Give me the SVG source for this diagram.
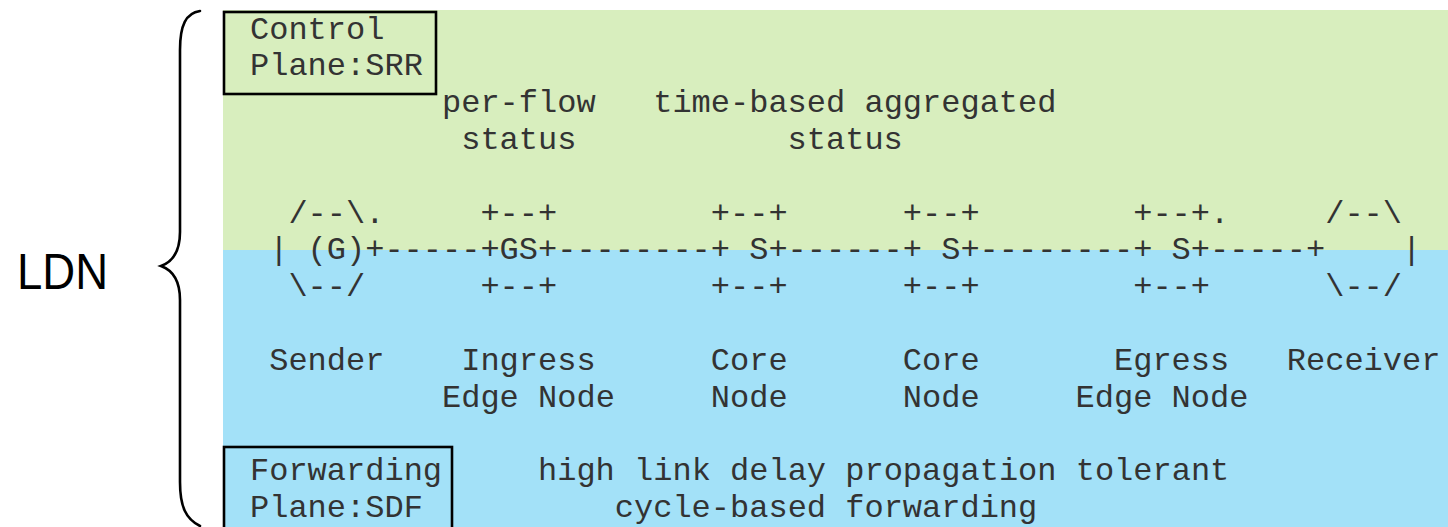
<svg xmlns="http://www.w3.org/2000/svg" width="1448" height="527" viewBox="0 0 1448 527">
  <style>
    .m { font-family: "Liberation Mono", "Courier New", monospace; font-size: 32px; fill: #333333; white-space: pre; }
    .box { fill: none; stroke: #000000; stroke-width: 2.6; }
    .brace { fill: none; stroke: #000000; stroke-width: 2.6; stroke-linecap: round; }
  </style>
  <rect x="0" y="0" width="1448" height="527" fill="#ffffff"/>
  <g id="planes">
    <rect x="223" y="10" width="1225" height="240" fill="#D8EEBE"/>
    <rect x="223" y="250" width="1225" height="277" fill="#A3E1F8"/>
  </g>
  <g id="ldn">
    <path class="brace" d="M200,11 C186,13 180,25 180,50 L180,232 C180,252 172,262 161,266 C172,270 180,280 180,300 L180,482 C180,507 186,519 200,526"/>
    <text x="17" y="289" font-family="Liberation Sans, Arial, sans-serif" font-size="50" fill="#000000" textLength="91" lengthAdjust="spacingAndGlyphs">LDN</text>
  </g>
  <g id="control-plane">
    <rect class="box" x="224" y="12" width="212" height="82"/>
    <text class="m" xml:space="preserve" x="250" y="38.5">Control</text>
    <text class="m" xml:space="preserve" x="250" y="75.3">Plane:SRR</text>
    <text class="m" xml:space="preserve" x="442" y="112.1">per-flow</text>
    <text class="m" xml:space="preserve" x="461.2" y="148.9">status</text>
    <text class="m" xml:space="preserve" x="653.2" y="112.1">time-based aggregated</text>
    <text class="m" xml:space="preserve" x="787.6" y="148.9">status</text>
  </g>
  <g id="forwarding-plane">
    <rect class="box" x="224" y="447" width="228" height="84"/>
    <text class="m" xml:space="preserve" x="250" y="480.1">Forwarding</text>
    <text class="m" xml:space="preserve" x="250" y="516.9">Plane:SDF</text>
    <text class="m" xml:space="preserve" x="538" y="480.1">high link delay propagation tolerant</text>
    <text class="m" xml:space="preserve" x="614.8" y="516.9">cycle-based forwarding</text>
  </g>
  <g id="sender">
    <text class="m" xml:space="preserve" x="288.4" y="222.5">/--\.</text>
    <text class="m" xml:space="preserve" x="269.2" y="259.3">| (G)+</text>
    <text class="m" xml:space="preserve" x="288.4" y="296.1">\--/</text>
    <text class="m" xml:space="preserve" x="269.2" y="369.7">Sender</text>
  </g>
  <g id="ingress">
    <text class="m" xml:space="preserve" x="480.4" y="222.5">+--+</text>
    <text class="m" xml:space="preserve" x="480.4" y="259.3">+GS+</text>
    <text class="m" xml:space="preserve" x="480.4" y="296.1">+--+</text>
    <text class="m" xml:space="preserve" x="461.2" y="369.7">Ingress</text>
    <text class="m" xml:space="preserve" x="442" y="406.5">Edge Node</text>
  </g>
  <g id="core1">
    <text class="m" xml:space="preserve" x="710.8" y="222.5">+--+</text>
    <text class="m" xml:space="preserve" x="710.8" y="259.3">+ S+</text>
    <text class="m" xml:space="preserve" x="710.8" y="296.1">+--+</text>
    <text class="m" xml:space="preserve" x="710.8" y="369.7">Core</text>
    <text class="m" xml:space="preserve" x="710.8" y="406.5">Node</text>
  </g>
  <g id="core2">
    <text class="m" xml:space="preserve" x="902.8" y="222.5">+--+</text>
    <text class="m" xml:space="preserve" x="902.8" y="259.3">+ S+</text>
    <text class="m" xml:space="preserve" x="902.8" y="296.1">+--+</text>
    <text class="m" xml:space="preserve" x="902.8" y="369.7">Core</text>
    <text class="m" xml:space="preserve" x="902.8" y="406.5">Node</text>
  </g>
  <g id="egress">
    <text class="m" xml:space="preserve" x="1133.2" y="222.5">+--+.</text>
    <text class="m" xml:space="preserve" x="1133.2" y="259.3">+ S+</text>
    <text class="m" xml:space="preserve" x="1133.2" y="296.1">+--+</text>
    <text class="m" xml:space="preserve" x="1114" y="369.7">Egress</text>
    <text class="m" xml:space="preserve" x="1075.6" y="406.5">Edge Node</text>
  </g>
  <g id="receiver">
    <text class="m" xml:space="preserve" x="1325.2" y="222.5">/--\</text>
    <text class="m" xml:space="preserve" x="1306" y="259.3">+    |</text>
    <text class="m" xml:space="preserve" x="1325.2" y="296.1">\--/</text>
    <text class="m" xml:space="preserve" x="1286.8" y="369.7">Receiver</text>
  </g>
  <g id="connectors">
    <text class="m" xml:space="preserve" x="384.4" y="259.3">-----</text>
    <text class="m" xml:space="preserve" x="557.2" y="259.3">--------</text>
    <text class="m" xml:space="preserve" x="787.6" y="259.3">------</text>
    <text class="m" xml:space="preserve" x="979.6" y="259.3">--------</text>
    <text class="m" xml:space="preserve" x="1210" y="259.3">-----</text>
  </g>
</svg>
